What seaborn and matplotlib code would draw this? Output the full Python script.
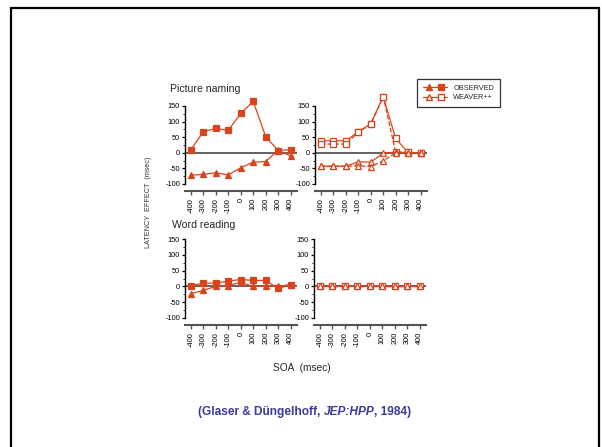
import matplotlib
matplotlib.use("Agg")
import matplotlib.pyplot as plt
import seaborn as sns
from matplotlib.lines import Line2D
from matplotlib.patches import Rectangle
from matplotlib.legend_handler import HandlerTuple
from matplotlib.ticker import FixedLocator

sns.set_theme(style="ticks")
plt.rcParams["font.family"] = ["Liberation Sans", "DejaVu Sans"]
plt.rcParams["axes.unicode_minus"] = False

W, H = 602, 447
RED = "#d9441c"
GREY = "#555555"

# data (latency effect in msec per SOA)
soa = [-400, -300, -200, -100, 0, 100, 200, 300, 400]
soa_labels = ["-400", "-300", "-200", "-100", "0", "100", "200", "300", "400"]

pn_obs_sq = [10, 68, 78, 72, 126, 165, 52, 7, 10]
pn_obs_tri = [-72, -69, -64, -71, -48, -30, -28, 8, -10]
pn_model_sq_a = [38, 39, 38, 68, 93, 180, 46, 1, 0]
pn_model_sq_b = [28, 28, 28, 66, 91, 180, 3, 1, 0]
pn_model_tri_a = [-43, -43, -43, -29, -30, -1, 2, 0, 0]
pn_model_tri_b = [-43, -43, -43, -42, -44, -26, 0, 0, 0]

wr_obs_sq = [3, 10, 11, 17, 22, 19, 19, -6, 5]
wr_obs_tri = [-23, -12, 0, 3, 13, 0, 2, 0, 6]
wr_model_sq = [0, 0, 0, 0, 0, 0, 0, 0, 0]
wr_model_tri = [0, 0, 0, 0, 0, 0, 0, 0, 0]

fig = plt.figure(figsize=(W / 100, H / 100), dpi=100)


def px_axes(left, top_px, bottom_px):
    return fig.add_axes([left / W, 1 - bottom_px / H, 112 / W, (bottom_px - top_px) / H])


def style(ax):
    ax.set_xlim(-448, 452)
    ax.set_ylim(-100, 190)
    ax.axhline(0, color=GREY, lw=1.3, zorder=1)
    for s in ["top", "right"]:
        ax.spines[s].set_visible(False)
    ax.spines["left"].set_bounds(-100, 150)
    ax.spines["left"].set_color("black")
    ax.spines["left"].set_linewidth(1.0)
    ax.spines["bottom"].set_position(("outward", 5))
    ax.spines["bottom"].set_color(GREY)
    ax.spines["bottom"].set_linewidth(1.5)
    ax.set_yticks([-100, -50, 0, 50, 100, 150])
    ax.yaxis.set_minor_locator(FixedLocator([-75, -25, 25, 75, 125]))
    ax.set_xticks(soa)
    ax.set_xticklabels(soa_labels, rotation=90)
    ax.tick_params(axis="y", which="major", length=2.5, width=0.9, labelsize=5.3, pad=1, colors="black")
    ax.tick_params(axis="y", which="minor", length=1.5, width=0.7)
    ax.tick_params(axis="x", length=3, width=1.0, color=GREY, labelsize=5.3, pad=2, labelcolor="black")
    ax.set_xlabel("")
    ax.set_ylabel("")
    ax.grid(False)


def draw(ax, y, marker, filled, ls="-"):
    sns.lineplot(x=soa, y=y, ax=ax, color=RED, marker=marker, markersize=4.2,
                 markerfacecolor=RED if filled else "white", markeredgecolor=RED,
                 markeredgewidth=0.9, linewidth=0.9, linestyle=ls, clip_on=False, zorder=3)


ax_tl = px_axes(185, 93.5, 184)
ax_tr = px_axes(315, 93.5, 184)
ax_bl = px_axes(185, 226.5, 318)
ax_br = px_axes(314, 226.5, 318)

draw(ax_tl, pn_obs_sq, "s", True)
draw(ax_tl, pn_obs_tri, "^", True)

draw(ax_tr, pn_model_sq_a, "s", False)
draw(ax_tr, pn_model_sq_b, "s", False, "--")
draw(ax_tr, pn_model_tri_a, "^", False)
draw(ax_tr, pn_model_tri_b, "^", False, "--")

draw(ax_bl, wr_obs_sq, "s", True)
draw(ax_bl, wr_obs_tri, "^", True)

draw(ax_br, wr_model_sq, "s", False, "--")
draw(ax_br, wr_model_tri, "^", False, "--")

for ax in [ax_tl, ax_tr, ax_bl, ax_br]:
    style(ax)

# titles and labels
fig.text(170 / W, 1 - 89 / H, "Picture naming", fontsize=7.6, va="center", ha="left")
fig.text(172 / W, 1 - 225 / H, "Word reading", fontsize=7.6, va="center", ha="left")
fig.text(148 / W, 1 - 202 / H, "LATENCY  EFFECT  (msec)", fontsize=5.2,
         rotation=90, va="center", ha="center", color="#333333")
fig.text(302 / W, 1 - 368 / H, "SOA  (msec)", fontsize=7.3, va="center", ha="center")

# citation line with italic part
cite_ax = fig.add_axes([0, 0, 1, 1], facecolor="none")
cite_ax.set_axis_off()
BLUE = "#3b3b9c"
t1 = cite_ax.text(198 / W, 1 - 412 / H, "(Glaser & Düngelhoff, ", fontsize=8.6,
                  fontweight="bold", color=BLUE, va="center", ha="left")
t2 = cite_ax.annotate("JEP:HPP", xy=(1, 0.5), xycoords=t1, fontsize=8.6, fontweight="bold",
                      fontstyle="italic", color=BLUE, va="center", ha="left")
t3 = cite_ax.annotate(", 1984)", xy=(1, 0.5), xycoords=t2, fontsize=8.6, fontweight="bold",
                      color=BLUE, va="center", ha="left")

# legend
obs = (Line2D([], [], color=RED, marker="^", markersize=4.5, lw=0.9),
       Line2D([], [], color=RED, marker="s", markersize=4.5, lw=0.9))
mod = (Line2D([], [], color=RED, marker="^", markersize=4.5, lw=0.9, markerfacecolor="white"),
       Line2D([], [], color=RED, marker="s", markersize=4.5, lw=0.9, markerfacecolor="white"))
leg = fig.legend([obs, mod], ["OBSERVED", "WEAVER++"],
                 handler_map={tuple: HandlerTuple(ndivide=2, pad=0)},
                 loc="upper left", bbox_to_anchor=(417 / W, 1 - 79 / H),
                 fontsize=5.3, frameon=True, fancybox=False, numpoints=1,
                 handlelength=3.3, handletextpad=0.9, borderpad=0.75, labelspacing=0.35,
                 borderaxespad=0)
leg.get_frame().set_edgecolor("black")
leg.get_frame().set_linewidth(0.9)

# outer slide frame
fig.patches.append(Rectangle((11 / W, -0.05), (599 - 11) / W, 1.05 - 8 / H,
                             transform=fig.transFigure, fill=False,
                             edgecolor="black", linewidth=1.6))

fig.savefig("out.png", dpi=100)
